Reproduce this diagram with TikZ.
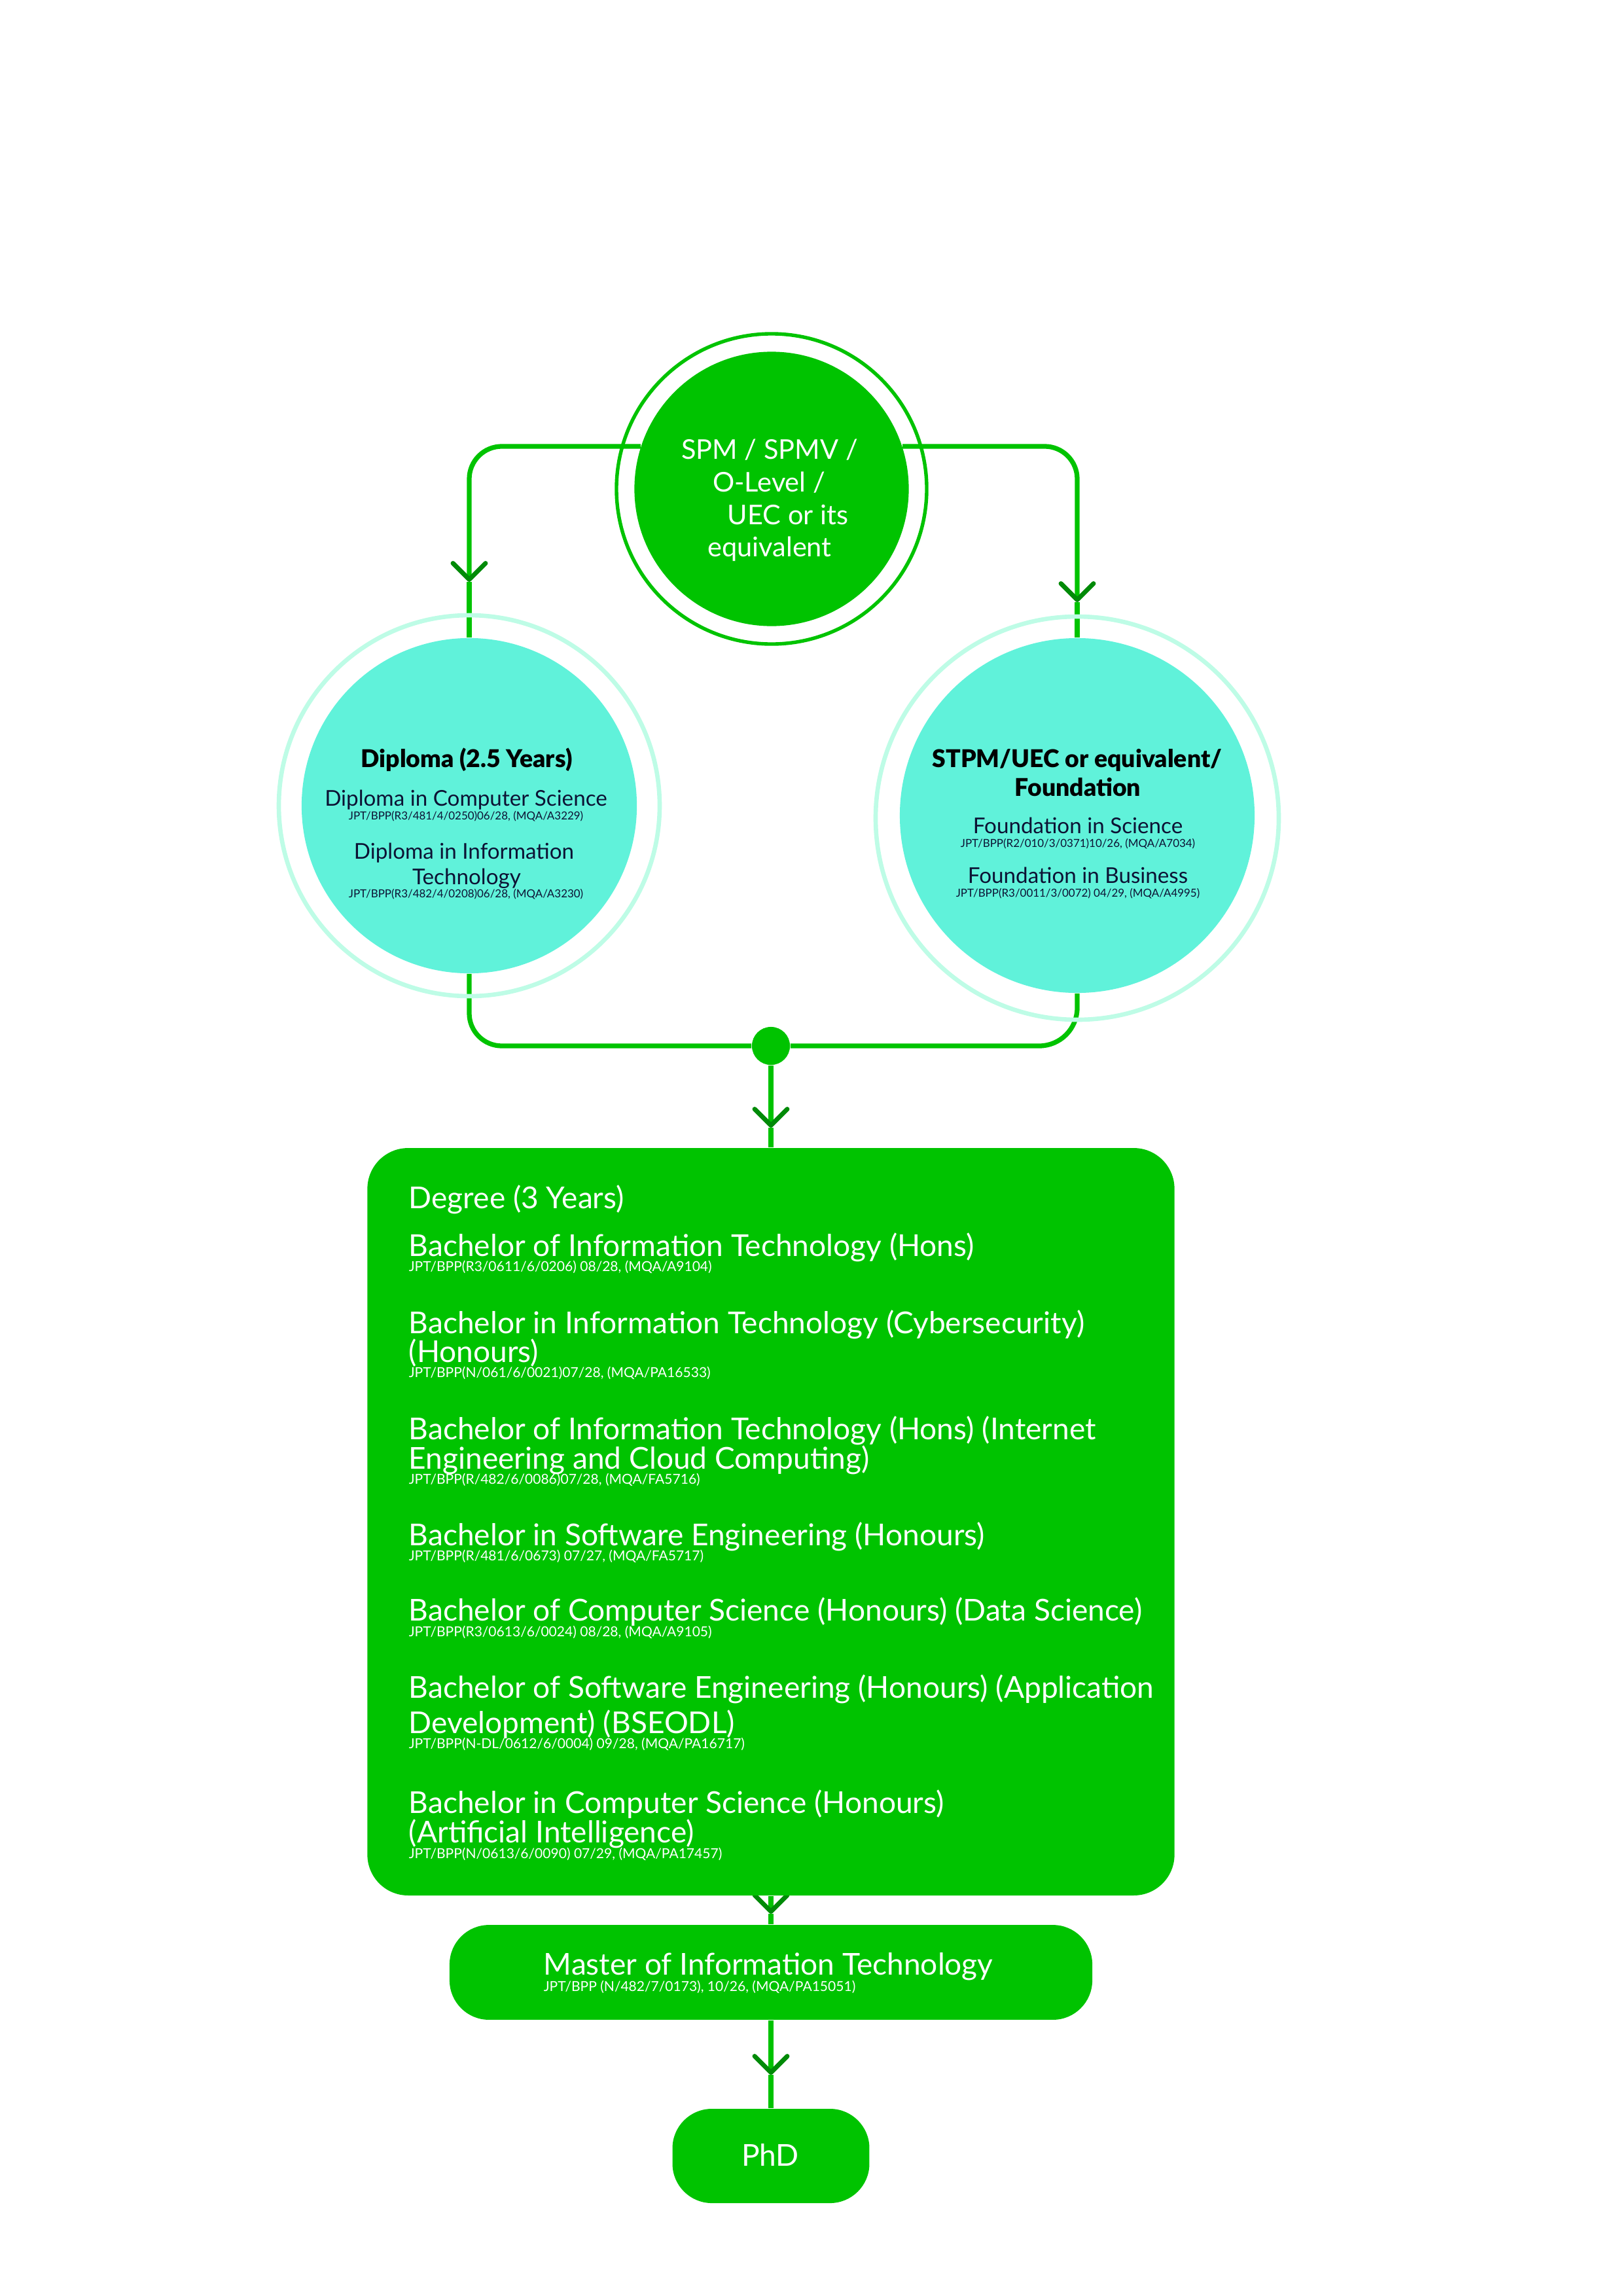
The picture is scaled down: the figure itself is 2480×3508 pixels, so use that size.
\documentclass[tikz,border=0pt]{standalone}
\usepackage{fontspec}
\setmainfont{Lato}
\IfFontExistsTF{Lato Black}{\newfontfamily\headfont{Lato Black}}{\newfontfamily\headfont[FakeBold=0.5]{Lato Bold}}
\usetikzlibrary{arrows.meta}
\pgfdeclarelayer{bg}
\pgfsetlayers{bg,main}
\definecolor{mygreen}{RGB}{0,195,0}
\definecolor{dkgreen}{RGB}{0,138,8}
\definecolor{mint}{RGB}{96,242,218}
\definecolor{lightmint}{RGB}{190,252,230}
\definecolor{navy}{RGB}{12,18,52}
\begin{document}
\begin{tikzpicture}[x=0.0846774mm,y=-0.0846774mm,
  conn/.style={draw=mygreen,line width=1.75pt},
  chev/.style={-{Straight Barb[length=6pt,width=12pt,line width=1.7pt,color=dkgreen,round]}},
  disc/.style={circle,inner sep=0pt},
  tw/.style={anchor=base,inner sep=0pt,text=white,font=\fontsize{10}{12}\selectfont},
  headb/.style={anchor=base,inner sep=0pt,text=black,font=\headfont\fontsize{9}{11}\selectfont},
  item/.style={anchor=base,inner sep=0pt,text=navy,font=\fontsize{8}{10}\selectfont},
  icode/.style={anchor=base,inner sep=0pt,text=navy,font=\fontsize{4.08}{5}\selectfont},
  degt/.style={anchor=base west,inner sep=0pt,text=white,font=\fontsize{11.1}{13}\selectfont},
  degc/.style={anchor=base west,inner sep=0pt,text=white,font=\fontsize{5.07}{6}\selectfont},
  gbox/.style={rectangle,fill=mygreen,inner sep=0pt}]
\useasboundingbox (0,0) rectangle (2480,3508);

% ---- circles
\node[disc,draw=mygreen,line width=1.3pt,minimum size=114.2pt] (topring) at (1179,747) {};
\node[disc,fill=mygreen,minimum size=101pt] (top) at (1179,747) {};
\node[disc,draw=lightmint,line width=1.6pt,minimum size=140.2pt] (dipring) at (717,1231) {};
\node[disc,fill=mint,minimum size=123.4pt] (dip) at (717,1231) {};
\node[disc,draw=lightmint,line width=1.6pt,minimum size=148.4pt] (fndring) at (1646,1250) {};
\node[disc,fill=mint,minimum size=130.6pt] (fnd) at (1646,1246) {};
\node[disc,fill=mygreen,minimum size=14pt] (jn) at (1178,1598) {};

% ---- boxes
\node[gbox,rounded corners=15pt,minimum width=297.1pt,minimum height=275.1pt] (deg) at (1178,2325) {};
\node[gbox,rounded corners=14.5pt,minimum width=236.6pt,minimum height=34.9pt] (mas) at (1178,3013.5) {};
\node[gbox,rounded corners=14.5pt,minimum width=72.5pt,minimum height=34.7pt] (phd) at (1178,3294) {};

% ---- connectors
\coordinate (aL) at (717,889);
\coordinate (aR) at (1646,920);
\coordinate (aD) at (1178,1723);
\coordinate (aM) at (1178,2924);
\coordinate (aP) at (1178,3170);
\begin{pgfonlayer}{bg}
\draw[conn,rounded corners=12pt,chev] (top.162) -| (aL);
\draw[conn] (aL) -- (dip.north);
\draw[conn,rounded corners=12pt,chev] (top.18) -| (aR);
\draw[conn] (aR) -- (fnd.north);
\draw[conn,rounded corners=12pt] (dip.south) |- (jn);
\draw[conn,rounded corners=14pt] (fnd.south) |- (jn);
\draw[conn,chev] (jn) -- (aD);
\draw[conn] (aD) -- (deg.north);
\draw[conn,chev] (deg.south) -- (aM);
\draw[conn] (aM) -- (mas.north);
\draw[conn,chev] (mas.south) -- (aP);
\draw[conn] (aP) -- (phd.north);
\end{pgfonlayer}

% ---- top circle text
\node[tw] (t1) at (1176,701) {SPM / SPMV /};
\node[tw] (t2) at (1175,751.5) {O-Level /};
\node[tw] (t3) at (1204,801) {UEC or its};
\node[tw] (t4) at (1176,850) {equivalent};

% ---- diploma text
\node[headb] (d0) at (713,1172) {Diploma (2.5 Years)};
\node[item] (d1) at (712,1231.5) {Diploma in Computer Science};
\node[icode] (d1c) at (712,1252) {JPT/BPP(R3/481/4/0250)06/28, (MQA/A3229)};
\node[item] (d2) at (709,1312) {Diploma in Information};
\node[item] (d2b) at (713,1351) {Technology};
\node[icode] (d2c) at (712,1371) {JPT/BPP(R3/482/4/0208)06/28, (MQA/A3230)};

% ---- foundation text
\node[headb] (f0) at (1646,1172) {STPM/UEC or equivalent/};
\node[headb] (f0b) at (1647,1216) {Foundation};
\node[item] (f1) at (1647,1273.5) {Foundation in Science};
\node[icode] (f1c) at (1647,1294.6) {JPT/BPP(R2/010/3/0371)10/26, (MQA/A7034)};
\node[item] (f2) at (1647,1349) {Foundation in Business};
\node[icode] (f2c) at (1647,1370) {JPT/BPP(R3/0011/3/0072) 04/29, (MQA/A4995)};

% ---- degree text
\node[degt] (g0) at (624,1846) {Degree (3 Years)};
\node[degt] (g1) at (624,1919) {Bachelor of Information Technology (Hons)};
\node[degc] (g1c) at (624,1942) {JPT/BPP(R3/0611/6/0206) 08/28, (MQA/A9104)};
\node[degt] (g2) at (624,2037) {Bachelor in Information Technology (Cybersecurity)};
\node[degt] (g2b) at (624,2081) {(Honours)};
\node[degc] (g2c) at (624,2104) {JPT/BPP(N/061/6/0021)07/28, (MQA/PA16533)};
\node[degt] (g3) at (624,2199) {Bachelor of Information Technology (Hons) (Internet};
\node[degt] (g3b) at (624,2244) {Engineering and Cloud Computing)};
\node[degc] (g3c) at (624,2267) {JPT/BPP(R/482/6/0086)07/28, (MQA/FA5716)};
\node[degt] (g4) at (624,2361) {Bachelor in Software Engineering (Honours)};
\node[degc] (g4c) at (624,2384) {JPT/BPP(R/481/6/0673) 07/27, (MQA/FA5717)};
\node[degt] (g5) at (624,2476) {Bachelor of Computer Science (Honours) (Data Science)};
\node[degc] (g5c) at (624,2500) {JPT/BPP(R3/0613/6/0024) 08/28, (MQA/A9105)};
\node[degt] (g6) at (624,2594) {Bachelor of Software Engineering (Honours) (Application};
\node[degt] (g6b) at (624,2648) {Development) (BSEODL)};
\node[degc] (g6c) at (624,2671) {JPT/BPP(N-DL/0612/6/0004) 09/28, (MQA/PA16717)};
\node[degt] (g7) at (624,2770) {Bachelor in Computer Science (Honours)};
\node[degt] (g7b) at (624,2815) {(Artificial Intelligence)};
\node[degc] (g7c) at (624,2839) {JPT/BPP(N/0613/6/0090) 07/29, (MQA/PA17457)};

% ---- master & phd text
\node[degt] (m1) at (830,3017) {Master of Information Technology};
\node[degc] (m1c) at (830,3042) {JPT/BPP (N/482/7/0173), 10/26, (MQA/PA15051)};
\node[anchor=base,inner sep=0pt,text=white,font=\fontsize{11.1}{13}\selectfont] (p1) at (1177,3309) {PhD};
\end{tikzpicture}
\end{document}
